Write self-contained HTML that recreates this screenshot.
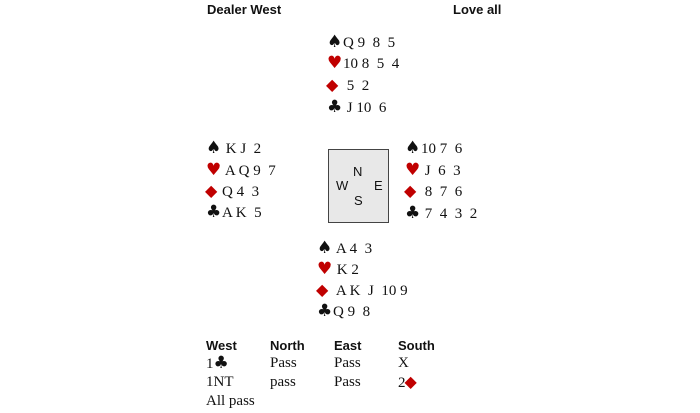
<!DOCTYPE html>
<html><head><style>
body{margin:0;width:700px;height:413px;background:#fff;position:relative;overflow:hidden;font-family:"Liberation Serif",serif;color:#111}
.a{position:absolute;white-space:pre;font-size:15px;line-height:18px}
.h{position:absolute;font-family:"Liberation Sans",sans-serif;font-weight:bold;font-size:13px;line-height:15px}
.r{color:#c00000}
.s{font-family:"DejaVu Sans",sans-serif;font-size:17px;display:inline-block;width:16px;line-height:18px}
.d{font-family:"DejaVu Sans",sans-serif;font-size:16px;display:inline-block;width:16px;line-height:18px;color:#c00000;position:relative;top:0px;margin-left:-1px;margin-right:1px}
.n{position:absolute;font-family:"Liberation Sans",sans-serif;font-size:13px;line-height:15px}
</style></head><body>
<div class="h" style="left:207px;top:2px">Dealer West</div>
<div class="h" style="left:453px;top:2px">Love all</div>

<div class="a" style="left:327px;top:33px"><span class="s">♠</span>Q 9  8  5</div>
<div class="a" style="left:327px;top:54px"><span class="s r">♥</span>10 8  5  4</div>
<div class="a" style="left:327px;top:76px"><span class="d">◆</span> 5  2</div>
<div class="a" style="left:327px;top:98px"><span class="s">♣</span> J 10  6</div>

<div class="a" style="left:206px;top:139px"><span class="s">♠</span> K J  2</div>
<div class="a" style="left:206px;top:161px"><span class="s r">♥</span> A Q 9  7</div>
<div class="a" style="left:206px;top:182px"><span class="d">◆</span>Q 4  3</div>
<div class="a" style="left:206px;top:203px"><span class="s">♣</span>A K  5</div>

<div style="position:absolute;left:328px;top:149px;width:59px;height:72px;background:#e8e8e8;border:1px solid #444"></div>
<div class="n" style="left:353px;top:164px">N</div>
<div class="n" style="left:336px;top:178px">W</div>
<div class="n" style="left:374px;top:178px">E</div>
<div class="n" style="left:354px;top:193px">S</div>

<div class="a" style="left:405px;top:139px"><span class="s">♠</span>10 7  6</div>
<div class="a" style="left:405px;top:161px"><span class="s r">♥</span> J  6  3</div>
<div class="a" style="left:405px;top:182px"><span class="d">◆</span> 8  7  6</div>
<div class="a" style="left:405px;top:204px"><span class="s">♣</span> 7  4  3  2</div>

<div class="a" style="left:317px;top:239px"><span class="s">♠</span> A 4  3</div>
<div class="a" style="left:317px;top:260px"><span class="s r">♥</span> K 2</div>
<div class="a" style="left:317px;top:281px"><span class="d">◆</span> A K  J  10 9</div>
<div class="a" style="left:317px;top:302px"><span class="s">♣</span>Q 9  8</div>

<div class="h" style="left:206px;top:338px">West</div>
<div class="h" style="left:270px;top:338px">North</div>
<div class="h" style="left:334px;top:338px">East</div>
<div class="h" style="left:398px;top:338px">South</div>
<div class="a" style="left:206px;top:354px">1<span class="s">♣</span></div>
<div class="a" style="left:270px;top:354px">Pass</div>
<div class="a" style="left:334px;top:354px">Pass</div>
<div class="a" style="left:398px;top:354px">X</div>
<div class="a" style="left:206px;top:373px">1NT</div>
<div class="a" style="left:270px;top:373px">pass</div>
<div class="a" style="left:334px;top:373px">Pass</div>
<div class="a" style="left:398px;top:373px">2<span class="d">◆</span></div>
<div class="a" style="left:206px;top:392px">All pass</div>
</body></html>
